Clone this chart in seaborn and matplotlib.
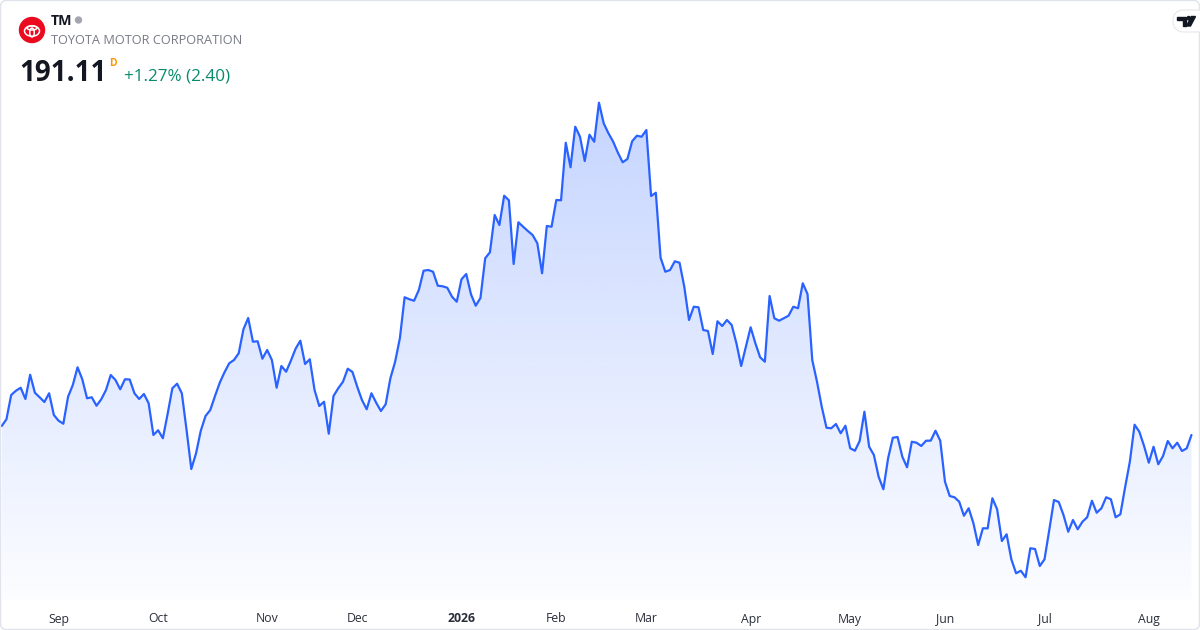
import numpy as np
import pandas as pd
import matplotlib
matplotlib.use("Agg")
import matplotlib.pyplot as plt
import seaborn as sb
from matplotlib.patches import Circle, Ellipse, FancyBboxPatch, Polygon

# DATA
#-----------------------
ticker = "TM"
company = "TOYOTA MOTOR CORPORATION"
last_price = "191.11"
change_text = "+1.27% (2.40)"
start_date = "2025-08-14"
market_holidays = ["2025-09-01", "2025-11-27", "2025-12-25", "2026-01-01", "2026-01-19",
                   "2026-02-16", "2026-04-03", "2026-05-25", "2026-06-19", "2026-07-03"]

# daily close
close = [
    192.73, 193.94, 198.31, 199.08, 199.62, 197.59, 201.96, 198.72, 197.90, 197.05,
    198.62, 194.71, 193.68, 193.14, 198.00, 200.11, 203.30, 201.14, 197.72, 197.90,
    196.38, 197.54, 199.21, 201.91, 201.01, 199.34, 201.14, 201.10, 198.62, 197.59,
    198.49, 196.82, 191.11, 191.96, 190.52, 194.89, 199.52, 200.34, 198.62, 192.01,
    184.99, 187.82, 191.88, 194.53, 195.61, 198.13, 200.52, 202.40, 204.02, 204.61,
    205.82,
    210.14, 212.17, 207.90, 207.98, 204.84, 206.41, 204.61, 199.62, 203.53, 202.50,
    204.48, 206.64, 208.08, 203.89, 204.74, 199.21, 196.33, 197.10, 191.34, 198.13,
    199.52, 200.70, 203.04, 202.45, 199.80, 197.41, 195.74, 198.62, 196.92, 195.43,
    196.64, 201.32, 204.30, 208.52, 215.90, 215.54, 215.28, 217.21, 220.68, 220.81,
    220.50, 217.98, 217.88, 217.62, 216.00, 215.10, 219.14, 220.09, 216.44, 214.38,
    215.77,
    222.92, 224.00, 230.71, 228.91, 234.18, 233.36, 221.89, 229.40, 228.60, 227.83,
    227.11, 225.62, 220.22, 228.73, 228.60, 233.41, 233.36, 243.72, 239.30, 246.60,
    244.80, 240.43, 245.16, 243.90, 250.92,
    247.22, 245.42, 243.90, 241.92, 240.20, 240.79, 243.98, 244.98, 244.80, 246.01,
    234.13, 234.72, 223.02, 220.50, 220.81, 222.38, 222.12, 217.80, 211.81, 214.20,
    214.10, 210.01, 209.83, 205.69, 211.58, 210.73, 211.81, 210.91, 207.62, 203.53,
    207.00, 210.50, 207.62, 205.10, 204.30, 216.13, 212.12, 211.68, 212.12, 212.58,
    214.20, 213.92, 218.42, 216.49,
    204.61, 200.70, 196.20, 192.42, 192.32, 193.09, 191.42, 192.78, 188.72, 188.28,
    190.03, 195.30, 189.00, 187.51, 183.60, 181.34, 186.92, 190.62, 190.75, 187.20,
    185.30, 189.90, 189.72, 189.13, 190.08, 190.10, 191.88, 190.08, 182.70, 180.13,
    179.90, 179.10, 176.58, 177.92, 175.22, 171.31, 174.32, 174.30, 179.72, 177.74,
    172.03, 173.24, 168.74, 166.22, 166.68, 165.50, 170.72, 170.59, 167.53, 168.74,
    174.01, 179.41, 179.05, 176.71, 173.70, 175.81, 174.14, 175.50, 176.30, 179.28,
    177.12, 177.92, 179.90, 179.54, 176.30, 176.84, 181.70, 186.30, 192.96, 191.70,
    189.13, 186.12, 189.00, 185.84, 187.33, 190.03, 188.72, 189.72, 188.23, 188.71,
    191.11,
]

line_color = "#2962ff"
up_color = "#088a6c"
text_color = "#131722"
grey_text = "#787b86"

dates = pd.bdate_range(start=start_date, periods=len(close), freq="C", holidays=market_holidays)
df = pd.DataFrame({"date": dates, "close": close})
df["idx"] = np.arange(len(df))

# month ticks at the first session of each month
first = df.groupby(df["date"].dt.to_period("M"))["idx"].min()
first = first[first > 0]
tick_pos = first.values
tick_lab = [str(p.year) if p.month == 1 else p.strftime("%b") for p in first.index]

# PLOT
#-----------------------
sb.set_style("white")
plt.rcParams["font.family"] = ["Open Sans", "DejaVu Sans"]

fig = plt.figure(figsize=(12, 6.3), dpi=100)
fig.patch.set_facecolor("white")

y_lo, y_hi = 161.41, 269.41
ax = fig.add_axes([0, 30 / 630, 1, 600 / 630])
sb.lineplot(data=df, x="idx", y="close", ax=ax, color=line_color, linewidth=1.6, zorder=3)

# gradient area under the line
fill = ax.fill_between(df["idx"], df["close"], y_lo, color="none", linewidth=0)
clip = fill.get_paths()[0]
n = 256
grad = np.zeros((n, 1, 4))
grad[..., 0] = 41 / 255
grad[..., 1] = 98 / 255
grad[..., 2] = 1.0
grad[:, 0, 3] = np.linspace(0.015, 0.27, n)
im = ax.imshow(grad, extent=[df["idx"].min(), df["idx"].max(), y_lo, df["close"].max()],
               origin="lower", aspect="auto", zorder=1, interpolation="bilinear")
im.set_clip_path(clip, transform=ax.transData)

ax.set_xlim(-0.36, 252.8)
ax.set_ylim(y_lo, y_hi)
ax.set_aspect("auto")
ax.set_xlabel("")
ax.set_ylabel("")
ax.set_yticks([])
ax.set_xticks(tick_pos)
ax.set_xticklabels(tick_lab)
ax.tick_params(axis="x", length=0, pad=9, labelsize=8.8, labelcolor="#2a2e39")
for lbl in ax.get_xticklabels():
    if lbl.get_text().isdigit():
        lbl.set_fontweight("bold")
for s in ax.spines.values():
    s.set_visible(False)
ax.patch.set_alpha(0)

# HEADER AND FRAME (pixel overlay)
#-----------------------
ov = fig.add_axes([0, 0, 1, 1], zorder=5)
ov.set_xlim(0, 1200)
ov.set_ylim(630, 0)
ov.axis("off")
ov.patch.set_alpha(0)

ov.add_patch(FancyBboxPatch((0.5, 0.5), 1199, 629, boxstyle="round,pad=0,rounding_size=6",
                            fc="none", ec="#e0e3eb", lw=1))

# toyota badge
ov.add_patch(Circle((32, 30), 12.5, color="#eb0a1e"))
ov.add_patch(Ellipse((32, 31), 15, 10.5, fc="none", ec="white", lw=1.1))
ov.add_patch(Ellipse((32, 28), 10, 4, fc="none", ec="white", lw=1.1))
ov.add_patch(Ellipse((32, 32.5), 4.5, 9, fc="none", ec="white", lw=1.1))

ov.text(51, 25, ticker, fontsize=10.3, fontweight="bold", color=text_color, va="baseline")
ov.add_patch(Circle((78.5, 20), 3, color="#a3a6af"))
ov.text(51, 44.3, company, fontsize=9.2, color=grey_text, va="baseline")
ov.text(19, 81, last_price, fontsize=20, fontweight="bold", color=text_color, va="baseline")
ov.text(109, 65.7, "D", fontsize=7.5, fontweight="bold", color="#ff9800", va="baseline")
ov.text(123.5, 80.5, change_text, fontsize=12.3, color=up_color, va="baseline")

# tradingview badge
ov.add_patch(FancyBboxPatch((1173, 10), 40, 22, boxstyle="round,pad=0,rounding_size=11",
                            fc="white", ec="#e6e7ea", lw=0.8))
ov.add_patch(Polygon([(1177, 16.5), (1186, 16.5), (1186, 26), (1182.5, 26), (1182.5, 19.5), (1177, 19.5)],
                     closed=True, color=text_color))
ov.add_patch(Circle((1188.8, 18.2), 1.7, color=text_color))
ov.add_patch(Polygon([(1191.5, 16.5), (1195.5, 16.5), (1190.5, 26), (1186.5, 26)],
                     closed=True, color=text_color))

fig.savefig("out.png", dpi=100, facecolor="white")
